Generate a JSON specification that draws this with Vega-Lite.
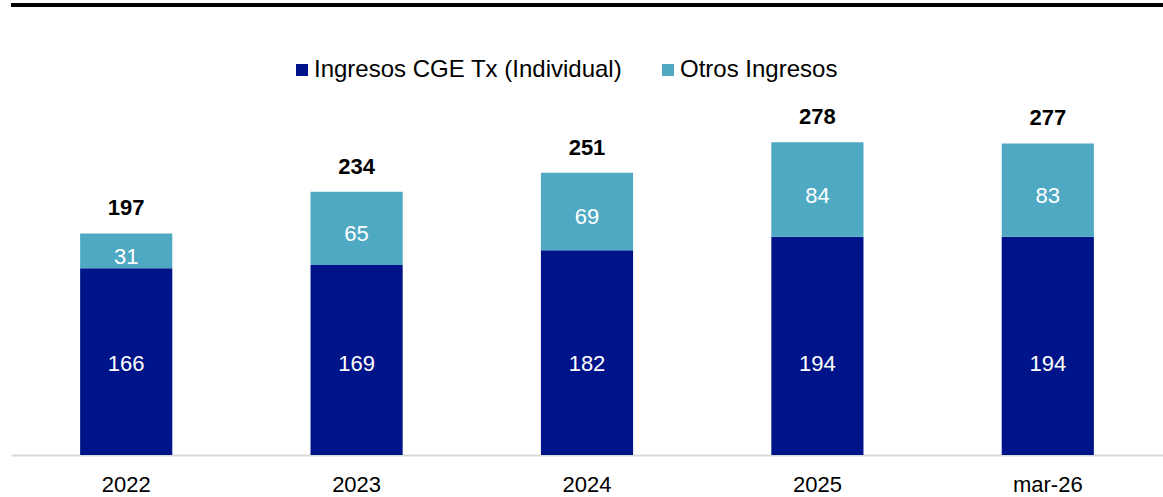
{
  "$schema": "https://vega.github.io/schema/vega-lite/v6.json",
  "autosize": "none",
  "width": 1152,
  "height": 450,
  "padding": {"left": 11, "top": 5, "right": 0, "bottom": 42},
  "background": "white",
  "config": {
    "view": {"stroke": null},
    "font": "Liberation Sans",
    "text": {"font": "Liberation Sans"}
  },
  "data": {
    "values": [
      {"periodo": "2022", "serie": "Ingresos CGE Tx (Individual)", "orden": 1, "valor": 166},
      {"periodo": "2022", "serie": "Otros Ingresos", "orden": 2, "valor": 31},
      {"periodo": "2023", "serie": "Ingresos CGE Tx (Individual)", "orden": 1, "valor": 169},
      {"periodo": "2023", "serie": "Otros Ingresos", "orden": 2, "valor": 65},
      {"periodo": "2024", "serie": "Ingresos CGE Tx (Individual)", "orden": 1, "valor": 182},
      {"periodo": "2024", "serie": "Otros Ingresos", "orden": 2, "valor": 69},
      {"periodo": "2025", "serie": "Ingresos CGE Tx (Individual)", "orden": 1, "valor": 194},
      {"periodo": "2025", "serie": "Otros Ingresos", "orden": 2, "valor": 84},
      {"periodo": "mar-26", "serie": "Ingresos CGE Tx (Individual)", "orden": 1, "valor": 194},
      {"periodo": "mar-26", "serie": "Otros Ingresos", "orden": 2, "valor": 83}
    ]
  },
  "layer": [
    {
      "mark": {"type": "bar"},
      "encoding": {
        "x": {
          "field": "periodo",
          "type": "nominal",
          "sort": null,
          "scale": {"paddingInner": 0.6, "paddingOuter": 0.3},
          "axis": {
            "title": null,
            "labelAngle": 0,
            "labelFontSize": 22,
            "labelColor": "#000000",
            "labelFont": "Liberation Sans",
            "labelPadding": 19,
            "ticks": false,
            "domainColor": "#d9d9d9",
            "domainWidth": 2
          }
        },
        "y": {
          "field": "valor",
          "type": "quantitative",
          "stack": "zero",
          "scale": {"domain": [0, 400], "nice": false},
          "axis": null
        },
        "order": {"field": "orden", "type": "quantitative"},
        "color": {
          "field": "serie",
          "type": "nominal",
          "scale": {
            "domain": ["Ingresos CGE Tx (Individual)", "Otros Ingresos"],
            "range": ["#001489", "#4fa9c3"]
          },
          "legend": {
            "title": null,
            "orient": "none",
            "direction": "horizontal",
            "legendX": 279,
            "legendY": 53,
            "symbolType": "square",
            "symbolSize": 144,
            "symbolStrokeWidth": 0,
            "labelFontSize": 24,
            "labelFont": "Liberation Sans",
            "labelColor": "#000000",
            "labelOffset": 0,
            "columnPadding": 33,
            "padding": 0,
            "labelLimit": 0
          }
        }
      }
    },
    {
      "transform": [
        {"stack": "valor", "groupby": ["periodo"], "sort": [{"field": "orden"}], "as": ["y0", "y1"]},
        {"filter": "datum.orden == 2"},
        {"calculate": "(datum.y0 + datum.y1) / 2", "as": "ymid"}
      ],
      "mark": {"type": "text", "fontSize": 22, "color": "white", "baseline": "middle", "dy": 6},
      "encoding": {
        "x": {"field": "periodo", "type": "nominal", "sort": null},
        "y": {"field": "ymid", "type": "quantitative"},
        "text": {"field": "valor", "type": "quantitative"}
      }
    },
    {
      "transform": [
        {"filter": "datum.orden == 1"}
      ],
      "mark": {"type": "text", "fontSize": 22, "color": "white", "baseline": "middle", "dy": 3},
      "encoding": {
        "x": {"field": "periodo", "type": "nominal", "sort": null},
        "y": {"datum": 83.5},
        "text": {"field": "valor", "type": "quantitative"}
      }
    },
    {
      "transform": [
        {"aggregate": [{"op": "sum", "field": "valor", "as": "total"}], "groupby": ["periodo"]}
      ],
      "mark": {"type": "text", "fontSize": 22, "fontWeight": "bold", "color": "black", "baseline": "alphabetic", "dy": -18},
      "encoding": {
        "x": {"field": "periodo", "type": "nominal", "sort": null},
        "y": {"field": "total", "type": "quantitative"},
        "text": {"field": "total", "type": "quantitative"}
      }
    },
    {
      "mark": {"type": "rule", "color": "black", "strokeWidth": 4},
      "encoding": {
        "y": {"datum": 400}
      }
    }
  ]
}
